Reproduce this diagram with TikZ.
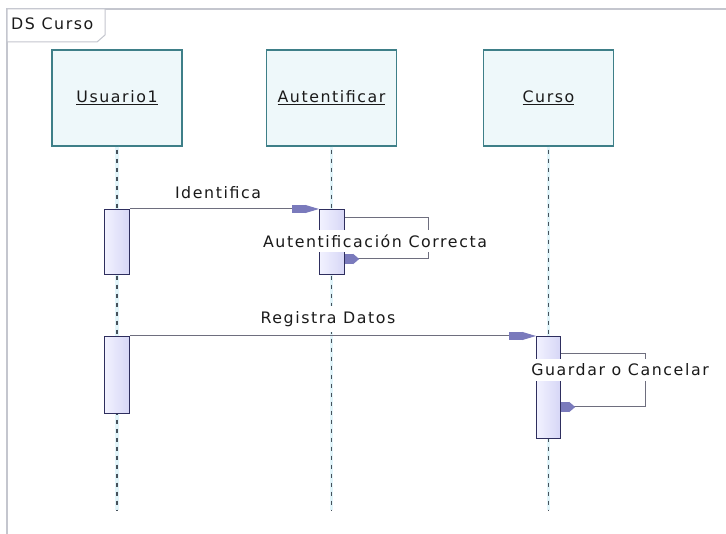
\documentclass[tikz,border=0pt]{standalone}
\usepackage{fontspec}
\setmainfont{DejaVu Sans}[LetterSpace=10]
\usetikzlibrary{arrows.meta,calc}
\definecolor{framegray}{HTML}{C4C6CE}
\definecolor{objedge}{HTML}{3E7F88}
\definecolor{objfill}{HTML}{EEF8FA}
\definecolor{actedge}{HTML}{2E2E5E}
\definecolor{actfillA}{HTML}{F2F2FF}
\definecolor{actfillB}{HTML}{D6D6F6}
\definecolor{msgline}{HTML}{6E6E7E}
\definecolor{tipcol}{HTML}{7A7ABC}
\definecolor{lifedash}{HTML}{46525C}
\definecolor{lifeglow}{HTML}{E2F5FA}
\definecolor{txt}{HTML}{1A1A1A}
\tikzset{
  lbl/.style={font=\fontsize{15.8}{18}\selectfont, text=txt},
  objbox/.style={draw=objedge, line width=1.4pt, fill=objfill,
    minimum width=130pt, minimum height=96pt, inner sep=0pt, lbl},
  actbox/.style={draw=actedge, line width=1.2pt, left color=actfillA,
    right color=actfillB, minimum width=25pt, inner sep=0pt},
  lifeglowline/.style={lifeglow, line width=3.5pt},
  lifeline/.style={lifedash, line width=1.1pt, dash pattern=on 4pt off 5pt},
  msg/.style={msgline, line width=1pt,
    -{Square[length=13pt,width=8pt,color=tipcol]Triangle[length=14pt,width=8pt,color=tipcol]}},
  selfmsg/.style={msgline, line width=1pt,
    -{Triangle[length=6pt,width=10pt,reversed,color=tipcol]Square[length=8pt,width=10pt,color=tipcol]}},
  msglbl/.style={lbl, fill=white, inner xsep=1pt, inner ysep=5pt},
}
\begin{document}
\begin{tikzpicture}[x=1pt,y=-1pt]
  \useasboundingbox (0,0) rectangle (726,534);
  \fill[white] (0,0) rectangle (726,534);

  % diagram frame and its name tab
  \draw[framegray, line width=2pt] (7,534) -- (7,9) -- (726,9);
  \draw[framegray, line width=1pt, fill=white]
    (7,9) -- (105,9) -- (105,35) -- (97,42) -- (7,42) -- cycle;
  \node[lbl, anchor=west, inner sep=0pt] (title) at (11,24) {DS Curso};

  % participants
  \node[objbox] (usr) at (117,98) {\underline{Usuario1}};
  \node[objbox] (aut) at (331.5,98) {\underline{Autentificar}};
  \node[objbox] (cur) at (548.5,98) {\underline{Curso}};

  % lifeline ends
  \coordinate (usrEnd) at (117,510);
  \coordinate (autEnd) at (331.5,510);
  \coordinate (curEnd) at (548.5,510);

  \foreach \p in {usr,aut,cur}{
    \draw[lifeglowline] (\p.south) -- (\p End);
    \draw[lifeline] ([yshift=-3pt]\p.south) -- (\p End);
  }

  % activations
  \node[actbox, minimum height=65pt, anchor=north west] (usrA) at (104,209) {};
  \node[actbox, minimum height=65pt, anchor=north west] (autA) at (319,209) {};
  \node[actbox, minimum height=77pt, anchor=north west] (usrB) at (104,336) {};
  \node[actbox, minimum height=102pt, minimum width=24pt, anchor=north west] (curA) at (536,336) {};

  % Identifica
  \draw[msg] (usrA.north east) -- (autA.north west);
  \node[lbl, inner sep=1pt] (lIdent) at (218,193) {Identifica};

  % self call on Autentificar
  \coordinate (autS) at (autA.east |- 0,218);
  \coordinate (autR1) at (428,218);
  \coordinate (autR2) at (428,259);
  \coordinate (autE) at (autA.east |- 0,259);
  \draw[selfmsg] (autS) -- (autR1) -- (autR2) -- (autE);
  \node[msglbl] (lAut) at (375,241) {Autentificación Correcta};

  % Registra Datos
  \draw[msg] (usrB.north east) -- (curA.north west);
  \node[msglbl] (lReg) at (328,319) {Registra Datos};

  % self call on Curso
  \coordinate (curS) at (curA.east |- 0,354);
  \coordinate (curR1) at (645,354);
  \coordinate (curR2) at (645,407);
  \coordinate (curE) at (curA.east |- 0,407);
  \draw[selfmsg] (curS) -- (curR1) -- (curR2) -- (curE);
  \node[msglbl] (lGua) at (620,370) {Guardar o Cancelar};
\end{tikzpicture}
\end{document}
